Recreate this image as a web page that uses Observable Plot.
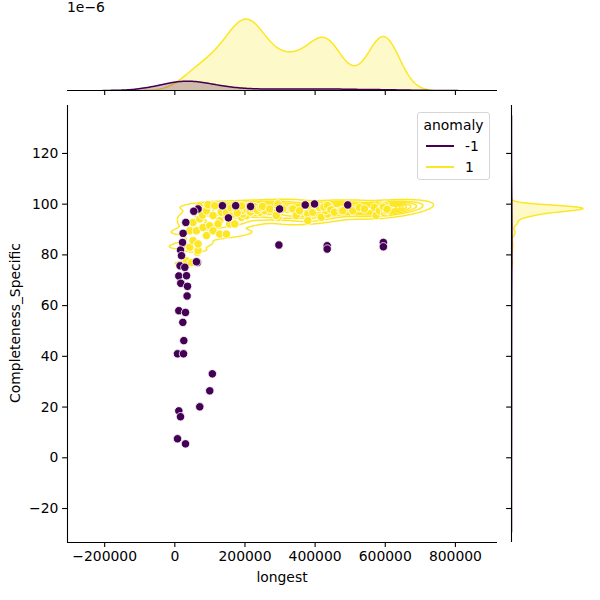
<!DOCTYPE html>
<html><head><meta charset="utf-8">
<script src="https://cdn.jsdelivr.net/npm/d3@7"></script>
<script src="https://cdn.jsdelivr.net/npm/@observablehq/plot@0.6"></script>
<style>
body{margin:0;background:#fff;}
#wrap{position:relative;width:600px;height:600px;font-family:"DejaVu Sans",sans-serif;color:#000;font-size:13.9px;overflow:hidden;}
.abs{position:absolute;white-space:nowrap;line-height:16px;}
</style></head><body><div id="wrap"></div>
<script>
const hueLevels = ["-1", "1"];
const hueColors = ["#440154", "#fde725"];
const xTicks = [-200000, 0, 200000, 400000, 600000, 800000];
const yTicks = [-20, 0, 20, 40, 60, 80, 100, 120];
const xDomain = [-306000, 920000];
const yDomain = [-33.4, 138.9];

// anomaly = -1
const negLongest = [7700, 24800, 25600, 107000, 99600, 71100, 11400, 16200, 7700, 30400,
  15000, 64500, 11400, 33300, 17000, 36100, 35000, 11400, 30400, 22800,
  66300, 54000, 135700, 173500, 152800, 31300, 23600, 21900, 16200, 19100, 61700, 28500, 216000,
  298700, 371800, 398300, 493000, 296700, 434400, 434400, 594600, 594600];
const negCompleteness = [41, 41, 46.2, 33.1, 26.4, 20.1, 18.5, 16.2, 7.5, 5.5,
  75.7, 77, 71.7, 71.8, 68.8, 67.6, 63.8, 58, 57.3, 53.4,
  98.1, 97.2, 99.4, 99.4, 94.6, 92.8, 88.5, 84.9, 81.9, 79.7, 77.3, 75.1, 99.1,
  98.1, 99.7, 100.1, 99.7, 83.9, 83.6, 82.3, 84.9, 83.2];
// estimated number of overlapping records at each spot
const negCount = [2, 2, 2, 2, 2, 2, 2, 2, 2, 2,
  2, 2, 2, 2, 2, 2, 2, 2, 2, 2,
  2, 2, 2, 2, 2, 2, 2, 2, 2, 2, 2, 2, 2,
  2, 2, 2, 2, 2, 2, 2, 2, 2];

// anomaly = 1
const posLongest = [26500, 42700, 33300, 47500, 64500, 23600, 42700, 66300, 52100, 66300,
  42700, 61700, 80500, 52100, 71100, 78800, 90200, 69100, 94700, 99600, 90200,
  113800, 109000, 132900, 128000, 156500, 170700, 189800, 204000, 194300, 222800,
  241800, 123200, 109000, 128000, 147100, 147100, 165900, 180100, 213400, 232400,
  241800, 194300, 222800, 256000,
  160000, 175000, 185000, 195000, 200000, 205000, 210000, 215000, 220000, 228000,
  235000, 245000, 250000, 190000, 178000,
  270300, 293900, 293900, 289300, 308100, 332000, 336600, 346200, 355600, 379200,
  379200,
  393500, 407700, 412500, 417400, 431600, 436100, 440000, 440000, 430000,
  425000, 435000, 445000, 455200,
  474300, 478800, 507300, 526300, 540600,
  569000, 573800, 583200, 592600, 600000, 600000, 600000, 600000, 600000, 598000, 602000,
  595000, 605000];
const posCompleteness = [76.9, 76.5, 77.7, 77.0, 81.0, 83.6, 83.0, 81.7, 85.6, 84.3,
  89.5, 89.5, 90.8, 92.8, 94.2, 95.7, 97.4, 99.4, 99.8, 91.5, 87.6,
  99.4, 95.5, 96.8, 93.5, 92.2, 92.2, 94.8, 95.5, 98.1, 97.4,
  97.4, 92.2, 89.5, 88.2, 88.2, 96.8, 96.1, 98.7, 98.7, 98.7,
  96.8, 96.1, 98.1, 97.4,
  98.5, 97.8, 99.0, 97.5, 98.8, 97.9, 99.2, 96.9, 98.4, 99.0,
  97.6, 98.6, 99.1, 99.3, 96.5,
  98.1, 100.1, 94.8, 95.5, 98.1, 98.1, 98.1, 95.5, 97.4, 96.1,
  93.5,
  96.8, 98.7, 98.7, 94.8, 98.7, 96.1, 98.5, 99.2, 97.5,
  98.9, 99.5, 97.8, 96.8,
  97.4, 97.4, 97.4, 98.7, 98.1,
  98.7, 95.5, 97.4, 99.4, 98.5, 99.0, 97.8, 98.2, 99.5, 96.5, 97.5,
  98.8, 98.0];
const posCount = [2, 2, 2, 2, 2, 4, 2, 4, 4, 4,
  4, 4, 4, 4, 4, 4, 4, 4, 4, 2, 2,
  8, 8, 8, 8, 8, 8, 8, 8, 8, 8,
  8, 8, 8, 8, 8, 8, 8, 8, 8, 8,
  8, 8, 8, 10,
  11, 11, 11, 11, 11, 11, 11, 11, 11, 11,
  11, 11, 11, 11, 11,
  12, 12, 12, 12, 15, 15, 15, 15, 15, 15,
  15,
  9, 11, 12, 11, 15, 15, 17, 15, 15,
  15, 15, 13, 7,
  7, 7, 6, 6, 7,
  8, 8, 11, 15, 20, 20, 20, 20, 20, 15, 15,
  15, 12];

const groups = [
  {key: hueLevels[0], color: hueColors[0], xs: negLongest, ys: negCompleteness, ws: negCount},
  {key: hueLevels[1], color: hueColors[1], xs: posLongest, ys: posCompleteness, ws: posCount}
];
const N = d3.sum(negCount) + d3.sum(posCount);

const rows = [];
for (const g of [groups[1], groups[0]]) g.xs.forEach((x, i) => rows.push({longest: x, completeness: g.ys[i], anomaly: g.key}));

// 1D KDE of records (scott, cut=3, 200 points, common_norm)
function kde1d(vals, ws, weight) {
  const W = d3.sum(ws);
  const m = d3.sum(vals, (v, i) => v * ws[i]) / W;
  const v = d3.sum(vals, (x, i) => ws[i] * (x - m) * (x - m)) / (W - 1);
  const bw = Math.sqrt(v) * Math.pow(W, -1 / 5);
  const lo = d3.min(vals) - 3 * bw, hi = d3.max(vals) + 3 * bw, out = [];
  for (let i = 0; i < 200; i++) {
    const t = lo + (hi - lo) * i / 199;
    let s = 0;
    vals.forEach((x, k) => { const z = (t - x) / bw; s += ws[k] * Math.exp(-0.5 * z * z); });
    out.push({t, d: weight * s / (W * bw * Math.sqrt(2 * Math.PI))});
  }
  return out;
}
// 2D KDE of records (scott, full covariance)
function kde2d(xs, ys, ws, weight) {
  const n = xs.length, W = d3.sum(ws);
  const f = Math.pow(W, -1 / 6);
  const mx = d3.sum(xs, (v, i) => v * ws[i]) / W, my = d3.sum(ys, (v, i) => v * ws[i]) / W;
  let sxx = 0, syy = 0, sxy = 0;
  for (let i = 0; i < n; i++) { const dx = xs[i] - mx, dy = ys[i] - my; sxx += ws[i] * dx * dx; syy += ws[i] * dy * dy; sxy += ws[i] * dx * dy; }
  const a = sxx / (W - 1) * f * f, b = sxy / (W - 1) * f * f, c = syy / (W - 1) * f * f;
  const det = a * c - b * b, ia = c / det, ib = -b / det, ic = a / det;
  const norm = weight / (W * 2 * Math.PI * Math.sqrt(det));
  const fn = (x, y) => {
    let s = 0;
    for (let i = 0; i < n; i++) { const dx = x - xs[i], dy = y - ys[i]; s += ws[i] * Math.exp(-0.5 * (ia * dx * dx + 2 * ib * dx * dy + ic * dy * dy)); }
    return s * norm;
  };
  const bx = Math.sqrt(a), by = Math.sqrt(c);
  const x0 = d3.min(xs) - 3 * bx, x1 = d3.max(xs) + 3 * bx, y0 = d3.min(ys) - 3 * by, y1 = d3.max(ys) + 3 * by;
  const vals = [];
  for (let i = 0; i < 200; i++) for (let j = 0; j < 200; j++) vals.push(fn(x0 + (x1 - x0) * i / 199, y0 + (y1 - y0) * j / 199));
  return {fn, x0, x1, y0, y1, vals};
}

for (const g of groups) {
  const w = d3.sum(g.ws) / N;
  g.kx = kde1d(g.xs, g.ws, w);
  g.ky = kde1d(g.ys, g.ws, w);
  g.k2 = kde2d(g.xs, g.ys, g.ws, w);
}
// iso-proportion levels (common)
const allVals = groups.flatMap(g => g.k2.vals).sort((p, q) => q - p);
const total = d3.sum(allVals);
const cum = []; let acc = 0; for (const v of allVals) { acc += v; cum.push(acc / total); }
const levels = d3.range(10).map(i => 0.05 + i * 0.95 / 9).map(iso => {
  const idx = d3.bisectLeft(cum, 1 - iso);
  return allVals[Math.min(idx, allVals.length - 1)];
});
const drawLevels = levels.slice(0, 9).sort((p, q) => p - q);

const fontStyle = {fontFamily: "DejaVu Sans", fontSize: "13.9px", color: "#000", background: "transparent", overflow: "visible"};
const fmt = d3.format("d");
const wrap = document.getElementById("wrap");
function place(el, left, top) { el.style.position = "absolute"; el.style.left = left + "px"; el.style.top = top + "px"; wrap.appendChild(el); }

// main joint plot (contours only visible for anomaly = 1)
const gPos = groups[1];
const main = Plot.plot({
  width: 505, height: 500, marginLeft: 67, marginRight: 8, marginTop: 5, marginBottom: 58,
  x: {domain: xDomain}, y: {domain: yDomain},
  color: {domain: hueLevels, range: hueColors},
  style: fontStyle,
  marks: [
    Plot.contour({
      x1: gPos.k2.x0, x2: gPos.k2.x1, y1: gPos.k2.y0, y2: gPos.k2.y1,
      value: gPos.k2.fn, thresholds: drawLevels, pixelSize: 1,
      fill: "none", stroke: gPos.color, strokeWidth: 1.5, clip: true
    }),
    Plot.dot(rows, {x: "longest", y: "completeness", fill: "anomaly", r: 4.2, stroke: "white", strokeWidth: 0.8}),
    Plot.ruleY([yDomain[0]], {stroke: "black", strokeWidth: 1.1}),
    Plot.ruleX([xDomain[0]], {stroke: "black", strokeWidth: 1.1}),
    Plot.axisX({ticks: xTicks, tickFormat: fmt, tickSize: 4.9, tickPadding: 4.2, label: null, strokeWidth: 1.1}),
    Plot.axisY({ticks: yTicks, tickFormat: fmt, tickSize: 4.9, tickPadding: 4.2, label: null, strokeWidth: 1.1})
  ]
});
place(main, 0, 100);

// top marginal
const topMax = d3.max(groups.flatMap(g => g.kx.map(d => d.d))) * 1.05;
const topMarks = [];
for (const g of [groups[1], groups[0]]) {
  topMarks.push(Plot.areaY(g.kx, {x: "t", y: "d", fill: g.color, fillOpacity: 0.25, clip: true}));
  topMarks.push(Plot.lineY(g.kx, {x: "t", y: "d", stroke: g.color, strokeWidth: 1.5, clip: true}));
}
const topPlot = Plot.plot({
  width: 505, height: 100, marginLeft: 67, marginRight: 8, marginTop: 15, marginBottom: 10,
  x: {domain: xDomain}, y: {domain: [0, topMax], axis: null},
  style: fontStyle,
  marks: [...topMarks,
    Plot.ruleY([0], {stroke: "black", strokeWidth: 1.1}),
    Plot.axisX({ticks: xTicks, tickFormat: () => "", tickSize: 4.9, label: null, strokeWidth: 1.1})]
});
place(topPlot, 0, 0);

// right marginal
const rightMax = d3.max(groups.flatMap(g => g.ky.map(d => d.d))) * 1.05;
const rightMarks = [];
for (const g of [groups[1], groups[0]]) {
  rightMarks.push(Plot.areaX(g.ky, {y: "t", x: "d", fill: g.color, fillOpacity: 0.25, clip: true}));
  rightMarks.push(Plot.lineX(g.ky, {y: "t", x: "d", stroke: g.color, strokeWidth: 1.5, clip: true}));
}
const rightPlot = Plot.plot({
  width: 95, height: 500, marginLeft: 6, marginRight: 14, marginTop: 5, marginBottom: 58,
  x: {domain: [0, rightMax], axis: null}, y: {domain: yDomain},
  style: fontStyle,
  marks: [...rightMarks,
    Plot.ruleX([0], {stroke: "black", strokeWidth: 1.1}),
    Plot.axisY({ticks: yTicks, tickFormat: () => "", tickSize: 4.9, label: null, strokeWidth: 1.1})]
});
place(rightPlot, 505, 100);

// texts
function txt(s, left, top, extra) { const d = document.createElement("div"); d.className = "abs"; d.textContent = s; d.style.left = left + "px"; d.style.top = top + "px"; if (extra) Object.assign(d.style, extra); wrap.appendChild(d); return d; }
txt("1e\u22126", 67, 0, {lineHeight: "14px"});
txt("longest", 282, 569, {transform: "translateX(-50%)"});
txt("Completeness_Specific", 15, 323, {transform: "translate(-50%,-50%) rotate(-90deg)"});

// legend
const leg = document.createElement("div");
Object.assign(leg.style, {position: "absolute", left: "417px", top: "112px", width: "71px", height: "66px", border: "1px solid #d6d6d6", borderRadius: "3px", background: "rgba(255,255,255,0.8)"});
wrap.appendChild(leg);
function legTxt(s, l, t, extra) { const d = document.createElement("div"); d.className = "abs"; d.textContent = s; d.style.left = l + "px"; d.style.top = t + "px"; if (extra) Object.assign(d.style, extra); leg.appendChild(d); }
legTxt("anomaly", 0, 4, {width: "71px", textAlign: "center"});
groups.forEach((g, i) => {
  const ln = document.createElement("div");
  Object.assign(ln.style, {position: "absolute", left: "8px", top: (32 + i * 21) + "px", width: "28px", height: "0", borderTop: "2px solid " + g.color});
  leg.appendChild(ln);
  legTxt(g.key, 47, 25 + i * 21);
});
</script></body></html>
